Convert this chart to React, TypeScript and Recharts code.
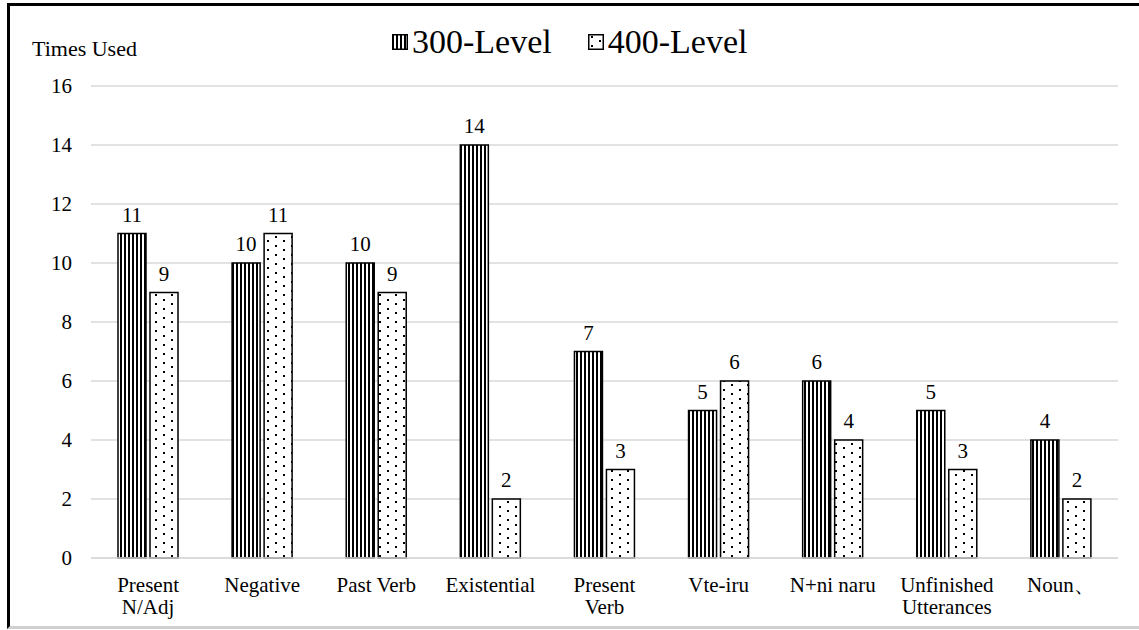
import React from 'react';
import { BarChart, Bar, XAxis, YAxis, CartesianGrid, Legend, LabelList } from 'recharts';

const categories = [
  'Present\nN/Adj',
  'Negative',
  'Past Verb',
  'Existential',
  'Present\nVerb',
  'Vte-iru',
  'N+ni naru',
  'Unfinished\nUtterances',
  'Noun、'
];
const level300 = [11, 10, 10, 14, 7, 5, 6, 5, 4];
const level400 = [9, 11, 9, 2, 3, 6, 4, 3, 2];
const yTicks = [0, 2, 4, 6, 8, 10, 12, 14, 16];

const chartData = categories.map((name, i) => ({
  name,
  l300: level300[i],
  l400: level400[i]
}));

const serif = "'Liberation Serif', 'Times New Roman', serif";

const CategoryTick = (props: any) => {
  const { x, y, payload } = props;
  const lines = String(payload.value).split('\n');
  return (
    <text x={x} y={y + 28} textAnchor="middle" fill="#000" fontSize={21} fontFamily={serif}>
      {lines.map((line, i) => (
        <tspan key={i} x={x} dy={i === 0 ? 0 : 22}>{line}</tspan>
      ))}
    </text>
  );
};

const Swatch = ({ fill }: { fill: string }) => (
  <svg width={16} height={16} style={{ display: 'block' }}>
    <rect x={0.75} y={0.75} width={14.5} height={14.5} fill={fill} stroke="#000" strokeWidth={1.5} />
  </svg>
);

const LegendContent = () => (
  <div style={{ display: 'flex', alignItems: 'center', fontFamily: serif, fontSize: 34, color: '#000', lineHeight: '40px' }}>
    <Swatch fill="url(#stripes300)" />
    <span style={{ marginLeft: 4 }}>300-Level</span>
    <span style={{ width: 36 }} />
    <Swatch fill="url(#dots400)" />
    <span style={{ marginLeft: 4 }}>400-Level</span>
  </div>
);

const App = () => {
  return (
    <div style={{ position: 'fixed', left: 0, top: 0, width: 1139, height: 630, overflow: 'hidden', background: '#fff' }}>
      <div
        style={{
          position: 'absolute',
          left: 7,
          top: 3,
          width: 1140,
          height: 620,
          borderTop: '3px solid #000',
          borderLeft: '3px solid #000',
          borderBottom: '3px solid #d0d0d0'
        }}
      />
      <div style={{ position: 'absolute', left: 0, top: 0 }}>
        <BarChart
          width={1139}
          height={630}
          data={chartData}
          margin={{ top: 86, right: 21, bottom: 12, left: 8 }}
          barSize={28}
          barGap={4}
        >
          <defs>
            <pattern id="stripes300" patternUnits="userSpaceOnUse" width={4} height={4}>
              <rect x={0} y={0} width={4} height={4} fill="#fff" />
              <rect x={0} y={0} width={2} height={4} fill="#000" />
            </pattern>
            <pattern id="dots400" patternUnits="userSpaceOnUse" width={16} height={9}>
              <rect x={0} y={0} width={16} height={9} fill="#fff" />
              <rect x={3} y={2} width={2} height={2} fill="#000" />
              <rect x={11} y={6} width={2} height={2} fill="#000" />
            </pattern>
          </defs>
          <CartesianGrid vertical={false} stroke="#d9d9d9" strokeWidth={1.5} />
          <XAxis
            dataKey="name"
            height={60}
            tickLine={false}
            tickMargin={0}
            axisLine={{ stroke: '#d9d9d9', strokeWidth: 1.5 }}
            tick={<CategoryTick />}
            interval={0}
          />
          <YAxis
            width={83}
            domain={[0, 16]}
            ticks={yTicks}
            tickLine={false}
            axisLine={false}
            tickMargin={13}
            tick={{ fill: '#000', fontSize: 21, fontFamily: serif }}
            label={{
              value: 'Times Used',
              content: ({ viewBox }: any) => (
                <text x={viewBox.x + 24} y={viewBox.y - 30} fill="#000" fontSize={22} fontFamily={serif}>
                  Times Used
                </text>
              )
            }}
          />
          <Legend
            layout="horizontal"
            verticalAlign="middle"
            align="center"
            content={<LegendContent />}
            wrapperStyle={{ top: 22, left: 392, width: 'auto' }}
          />
          <Bar dataKey="l300" name="300-Level" fill="url(#stripes300)" stroke="#000" strokeWidth={1.5} isAnimationActive={false}>
            <LabelList dataKey="l300" position="top" offset={12} fill="#000" fontSize={21} fontFamily={serif} />
          </Bar>
          <Bar dataKey="l400" name="400-Level" fill="url(#dots400)" stroke="#000" strokeWidth={1.5} isAnimationActive={false}>
            <LabelList dataKey="l400" position="top" offset={12} fill="#000" fontSize={21} fontFamily={serif} />
          </Bar>
        </BarChart>
      </div>
    </div>
  );
};

export default App;
